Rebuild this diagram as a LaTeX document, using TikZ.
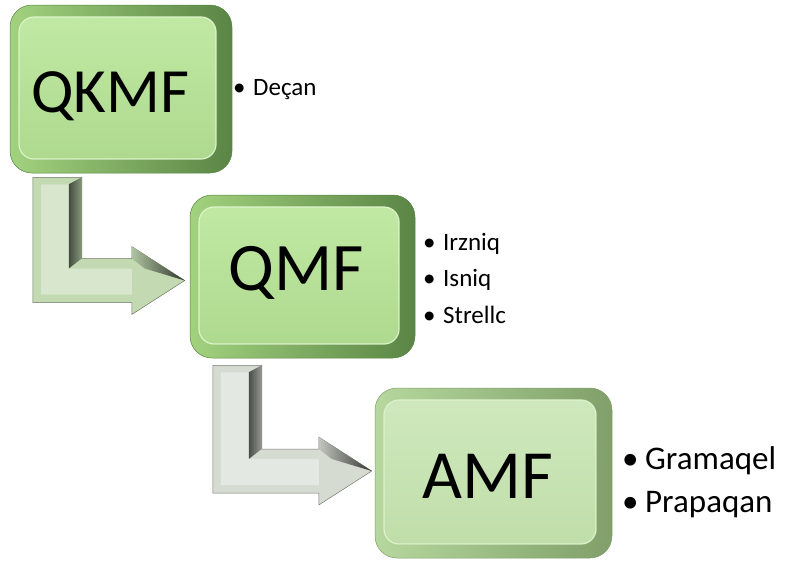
\documentclass[tikz,border=0pt]{standalone}
\usepackage{fontspec}
\setmainfont{Carlito}
\usetikzlibrary{calc}

\definecolor{rimlight}{HTML}{A2D27E}
\definecolor{rimdark}{HTML}{5A8545}
\definecolor{facetop}{HTML}{C2EAA5}
\definecolor{facebot}{HTML}{ACD88C}
\definecolor{facehi}{HTML}{DDF3CB}
\definecolor{arrowgreen}{HTML}{C2D9B2}
\definecolor{arrowgrey}{HTML}{D6DBD2}

% bent arrow: #1 top of the arm, #2 tip, #3 colour
\newcommand{\bentarrow}[3]{%
  \path[fill=#3, draw=#3!55!black, line width=0.5pt] let \p1=(#1), \p2=(#2) in
    (\x1,\y1) -- (\x1+49pt,\y1) -- (\x1+49pt,\y2+22pt) -- (\x2-53pt,\y2+22pt)
    -- (\x2-53pt,\y2+34pt) -- (\x2,\y2) -- (\x2-53pt,\y2-34pt) -- (\x2-53pt,\y2-22pt)
    -- (\x1,\y2-22pt) -- cycle;
  \path[fill=#3!65!white] let \p1=(#1), \p2=(#2) in
    (\x1+8pt,\y1-7pt) -- (\x1+36pt,\y1-7pt) -- (\x1+36pt,\y2+12pt) -- (\x2-53pt,\y2+12pt)
    -- (\x2-53pt,\y2-14pt) -- (\x1+8pt,\y2-14pt) -- cycle;
  \shade[left color=#3!35!black, right color=#3!70!black] let \p1=(#1), \p2=(#2) in
    (\x1+36pt,\y1-7pt) -- (\x1+49pt,\y1) -- (\x1+49pt,\y2+22pt) -- (\x1+36pt,\y2+12pt) -- cycle;
  \shade[left color=#3!90!black, right color=#3!25!black] let \p1=(#1), \p2=(#2) in
    (\x2-53pt,\y2+34pt) -- (\x2,\y2) -- (\x2-40pt,\y2+12pt) -- (\x2-53pt,\y2+22pt) -- cycle;
}

\begin{document}
\begin{tikzpicture}[x=1pt, y=-1pt,
    mfbox/.style 2 args={rounded corners=22pt, minimum width=#1, minimum height=#2,
      draw=rimdark, line width=0.5pt, left color=rimlight, right color=rimdark,
      path picture={
        \fill[rounded corners=15pt, top color=facetop, bottom color=facebot,
          draw=facehi, line width=1.2pt]
          ([shift={(9pt,-12pt)}]path picture bounding box.north west) rectangle
          ([shift={(-16pt,14pt)}]path picture bounding box.south east);}},
    title/.style={anchor=base, inner sep=0pt, font=\fontsize{#1}{#1}\selectfont},
    item/.style={anchor=base west, inner sep=0pt, font=\fontsize{#1}{#1}\selectfont}]

  \useasboundingbox (0,0) rectangle (790,563);

  % boxes
  \node[mfbox={222pt}{168pt}] (qkmf) at (121,89) {};
  \node[mfbox={225pt}{163pt}] (qmf) at (302.5,276.5) {};
  \definecolor{rimlight}{HTML}{B6D89E}
  \definecolor{rimdark}{HTML}{809F6A}
  \definecolor{facetop}{HTML}{D0E9BF}
  \definecolor{facebot}{HTML}{BEDDA7}
  \node[mfbox={237pt}{170pt}] (amf) at (493.5,473) {};

  \node[title=63] (qkmf-t) at (110,112) {QKMF};
  \node[title=68] (qmf-t) at (296,290) {QMF};
  \node[title=69] (amf-t) at (488,498) {AMF};

  % arrows
  \coordinate (a1-top) at ([shift={(23,4)}]qkmf.south west);
  \coordinate (a1-tip) at ([shift={(-5,4)}]qmf.west);
  \coordinate (a2-top) at ([shift={(23,7)}]qmf.south west);
  \coordinate (a2-tip) at ([shift={(-3,-2)}]amf.west);
  \bentarrow{a1-top}{a1-tip}{arrowgreen}
  \bentarrow{a2-top}{a2-tip}{arrowgrey}

  % lists
  \node[item=25] (decan) at (233,95) {\makebox[20pt][l]{\textbullet}Deçan};
  \node[item=25] (irzniq) at (423,250) {\makebox[20pt][l]{\textbullet}Irzniq};
  \node[item=25] (isniq) at (423,286.5) {\makebox[20pt][l]{\textbullet}Isniq};
  \node[item=25] (strellc) at (423,323) {\makebox[20pt][l]{\textbullet}Strellc};
  \node[item=33] (gramaqel) at (622,469) {\makebox[23pt][l]{\textbullet}Gramaqel};
  \node[item=33] (prapaqan) at (622,512) {\makebox[23pt][l]{\textbullet}Prapaqan};
\end{tikzpicture}
\end{document}
